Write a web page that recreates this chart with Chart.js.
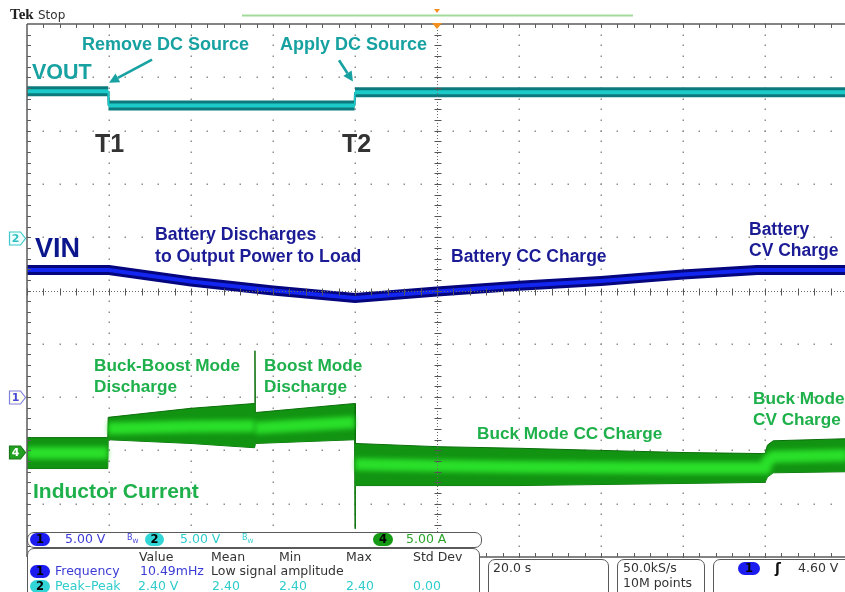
<!DOCTYPE html>
<html><head><meta charset="utf-8">
<script src="https://cdn.jsdelivr.net/npm/chart.js@4.4.1/dist/chart.umd.min.js"></script>
<style>
html,body{margin:0;padding:0;background:#fff;overflow:hidden;width:845px;height:592px;}
#wrap{position:relative;width:848px;height:592px;overflow:hidden;}
canvas{position:absolute;left:0;top:0;}
.lbl{position:absolute;white-space:nowrap;font-family:"Liberation Sans",Arial,sans-serif;font-weight:bold;line-height:1;}
.ro{position:absolute;white-space:nowrap;font-family:"DejaVu Sans",sans-serif;font-size:12.5px;line-height:1;}
.box{position:absolute;border:1.5px solid #5a5a5a;border-radius:7px;background:#fff;box-sizing:border-box;}
.pill{position:absolute;height:13px;border-radius:7px;font-family:"DejaVu Sans",sans-serif;font-weight:bold;font-size:11.5px;line-height:13px;text-align:center;color:#000;}
.bw{position:absolute;font-family:"DejaVu Sans",sans-serif;font-size:8px;line-height:1;}
</style>
</head><body>
<div id="wrap">
<canvas id="c" width="848" height="592"></canvas>
</div>
<script>
// ---------------- DATA (time in s, 20 s/div; values in screen divisions) ----------------
// VOUT trace
const tVout   = [-100, -80.2, -80.1, -20.1, -20.0, 100];
const vVout   = [3.74, 3.74, 3.47, 3.47, 3.72, 3.72];
// VIN trace
const tVin    = [-100, -80, -60, -40, -20, 0, 20, 40, 60, 78, 100];
const vVin    = [0.385, 0.385, 0.17, 0.0, -0.14, -0.02, 0.09, 0.18, 0.30, 0.385, 0.385];
// Inductor current envelope (upper / lower edge of the switching band) and bright core
const tIL     = [-100, -80.3, -80.2, -60, -44.5, -44.4, -44.3, -20.1, -20.0, -19.9, 0, 20, 40, 60, 80.0, 80.6, 82, 100];
const ilUpper = [-2.76, -2.76, -2.38, -2.21, -2.12, -1.13, -2.29, -2.12, -2.12, -2.87, -2.93, -2.96, -3.00, -3.04, -3.06, -2.90, -2.82, -2.78];
const ilLower = [-3.34, -3.34, -2.80, -2.87, -2.95, -2.95, -2.87, -2.80, -4.47, -3.66, -3.66, -3.66, -3.64, -3.62, -3.60, -3.50, -3.42, -3.40];
const ilCore  = [-3.05, -3.05, -2.59, -2.55, -2.54, -2.54, -2.58, -2.47, -2.47, -3.26, -3.29, -3.31, -3.32, -3.33, -3.33, -3.20, -3.12, -3.09];
// Channel ground markers (divisions)
const chMarkers = [
  {ch:'2', level:0.98,  kind:'c2'},
  {ch:'1', level:-2.0,  kind:'c1'},
  {ch:'4', level:-3.03, kind:'c4'}
];
// Axis ranges
const X_MIN = -100, X_MAX = 100, X_DIV = 20;
const Y_MIN = -5, Y_MAX = 5;

// Annotation arrows (data coordinates: [tFrom, vFrom, tTo, vTo])
const arrows = [[-69.5, 4.33, -80.0, 3.90], [-23.9, 4.32, -20.5, 3.92]];

const TEAL = '#17a1a1', NAVY = '#0b168c', NAVY2 = '#1b1b96', GREEN = '#1eb04a', DARK = '#333333';
const labels = [
 ['Remove DC Source', 82, 44, 18, TEAL],
 ['Apply DC Source', 280, 44, 18, TEAL],
 ['VOUT', 32, 73, 21.5, TEAL],
 ['T1', 95, 143, 25, DARK],
 ['T2', 342, 143, 25, DARK],
 ['VIN', 35, 248, 27, NAVY],
 ['Battery Discharges', 155, 235, 17.7, NAVY2],
 ['to Output Power to Load', 155, 257, 17.7, NAVY2],
 ['Battery CC Charge', 451, 257, 17.5, NAVY2],
 ['Battery', 749, 230, 17.5, NAVY2],
 ['CV Charge', 749, 251, 17.5, NAVY2],
 ['Buck-Boost Mode', 94, 365, 17.2, GREEN],
 ['Discharge', 94, 386, 17.2, GREEN],
 ['Boost Mode', 264, 365, 17.2, GREEN],
 ['Discharge', 264, 386, 17.2, GREEN],
 ['Inductor Current', 33, 490, 21, GREEN],
 ['Buck Mode CC Charge', 477, 433, 17.2, GREEN],
 ['Buck Mode', 753, 398, 17.2, GREEN],
 ['CV Charge', 753, 419, 17.2, GREEN]
];

// ---------------- helpers ----------------
const pts = (xs, ys) => xs.map((x, i) => ({x, y: ys[i]}));
const stepW = (thin, thick) => c => (Math.abs(c.p1.parsed.x - c.p0.parsed.x) < 0.5 ? thin : thick);
const wrap = document.getElementById('wrap');
function addDiv(cls, text, left, top, style) {
  const d = document.createElement('div');
  d.className = cls; d.textContent = text;
  d.style.left = left + 'px'; d.style.top = top + 'px';
  if (style) Object.assign(d.style, style);
  wrap.appendChild(d); return d;
}

// ---------------- graticule / decorations plugin ----------------
const scopePlugin = {
  id: 'scope',
  beforeDatasetsDraw(chart) {
    const {ctx, scales: {x, y}} = chart;
    ctx.save();
    ctx.fillStyle = '#8f8f8f';
    for (let t = X_MIN + X_DIV; t < X_MAX; t += X_DIV) {
      if (t === 0) continue;
      for (let k = 0; k <= 50; k++) {
        const v = Y_MIN + k * 0.2;
        ctx.fillRect(Math.round(x.getPixelForValue(t)) - 0.5, Math.round(y.getPixelForValue(v)) - 0.5, 1.5, 1.5);
      }
    }
    for (let v = Y_MIN + 1; v < Y_MAX; v++) {
      if (v === 0) continue;
      for (let k = 0; k <= 50; k++) {
        const t = X_MIN + k * X_DIV / 5;
        ctx.fillRect(Math.round(x.getPixelForValue(t)) - 0.5, Math.round(y.getPixelForValue(v)) - 0.5, 1.5, 1.5);
      }
    }
    ctx.restore();
  },
  beforeDatasetDraw(chart, args) {
    if (args.meta.label === 'IL core') { chart.ctx.save(); chart.ctx.filter = 'blur(2.5px)'; }
  },
  afterDatasetDraw(chart, args) {
    if (args.meta.label === 'IL core') { chart.ctx.restore(); }
  },
  afterDatasetsDraw(chart) {
    const {ctx, scales: {x, y}, chartArea: a} = chart;
    const X = v => x.getPixelForValue(v), Y = v => y.getPixelForValue(v);
    ctx.save();
    // center lines
    ctx.strokeStyle = '#6a6a6a'; ctx.lineWidth = 1;
    ctx.setLineDash([1, 2]);
    const cx = Math.round(X(0)) + 0.5, cy = Math.round(Y(0)) + 0.5;
    ctx.beginPath(); ctx.moveTo(cx, a.top); ctx.lineTo(cx, a.bottom); ctx.stroke();
    ctx.beginPath(); ctx.moveTo(a.left, cy); ctx.lineTo(a.right, cy); ctx.stroke();
    ctx.setLineDash([]);
    ctx.strokeStyle = '#555';
    ctx.beginPath();
    for (let k = 0; k <= 50; k++) {
      const py = Math.round(Y(Y_MIN + k * 0.2)) + 0.5;
      ctx.moveTo(cx - 3, py); ctx.lineTo(cx + 4, py);
      const px = Math.round(X(X_MIN + k * X_DIV / 5)) + 0.5;
      ctx.moveTo(px, cy - 3); ctx.lineTo(px, cy + 4);
    }
    ctx.stroke();
    // edges
    ctx.strokeStyle = '#5c5c5c'; ctx.lineWidth = 1.5;
    ctx.beginPath();
    ctx.moveTo(a.left, a.top); ctx.lineTo(a.right, a.top);
    ctx.moveTo(a.left, a.top); ctx.lineTo(a.left, a.bottom);
    ctx.moveTo(a.left, a.bottom); ctx.lineTo(a.right, a.bottom);
    ctx.stroke();
    ctx.lineWidth = 1; ctx.beginPath();
    for (let k = 1; k < 50; k++) {
      const px = Math.round(X(X_MIN + k * X_DIV / 5)) + 0.5;
      ctx.moveTo(px, a.top); ctx.lineTo(px, a.top + 4);
      ctx.moveTo(px, a.bottom); ctx.lineTo(px, a.bottom - 4);
      const py = Math.round(Y(Y_MIN + k * 0.2)) + 0.5;
      ctx.moveTo(a.left, py); ctx.lineTo(a.left + 4, py);
    }
    ctx.stroke();
    // arrows
    ctx.strokeStyle = TEAL; ctx.fillStyle = TEAL; ctx.lineWidth = 2.6;
    arrows.forEach(([t0, v0, t1, v1]) => {
      const x0 = X(t0), y0 = Y(v0), x1 = X(t1), y1 = Y(v1);
      const ang = Math.atan2(y1 - y0, x1 - x0), L = 10, W = 5;
      const bx = x1 - L * Math.cos(ang), by = y1 - L * Math.sin(ang);
      ctx.beginPath(); ctx.moveTo(x0, y0); ctx.lineTo(bx, by); ctx.stroke();
      ctx.beginPath(); ctx.moveTo(x1, y1);
      ctx.lineTo(bx + W * Math.sin(ang), by - W * Math.cos(ang));
      ctx.lineTo(bx - W * Math.sin(ang), by + W * Math.cos(ang));
      ctx.closePath(); ctx.fill();
    });
    // trigger position marker
    const tx = X(0);
    ctx.fillStyle = '#f39020';
    ctx.beginPath(); ctx.moveTo(tx - 5, a.top - 1); ctx.lineTo(tx + 5, a.top - 1); ctx.lineTo(tx, a.top + 5); ctx.closePath(); ctx.fill();
    ctx.beginPath(); ctx.moveTo(tx - 3, 9); ctx.lineTo(tx + 3, 9); ctx.lineTo(tx, 13); ctx.closePath(); ctx.fill();
    // record bar
    ctx.strokeStyle = '#a2dc9c'; ctx.lineWidth = 2;
    ctx.beginPath(); ctx.moveTo(242, 15.5); ctx.lineTo(633, 15.5); ctx.stroke();
    // channel ground markers
    chMarkers.forEach(m => {
      const py = Math.round(Y(m.level)) + 0.5;
      let fill, stroke, txt;
      if (m.kind === 'c2') { fill = '#f0ffff'; stroke = '#3cc8c8'; txt = '#30c0c0'; }
      else if (m.kind === 'c1') { fill = '#fffff2'; stroke = '#8080e0'; txt = '#4a4ad8'; }
      else { fill = '#22a022'; stroke = '#1a7a1a'; txt = '#ffffff'; }
      ctx.beginPath();
      ctx.moveTo(9.5, py - 6.5); ctx.lineTo(20.5, py - 6.5); ctx.lineTo(25.5, py);
      ctx.lineTo(20.5, py + 6.5); ctx.lineTo(9.5, py + 6.5); ctx.closePath();
      ctx.fillStyle = fill; ctx.fill(); ctx.strokeStyle = stroke; ctx.lineWidth = 1.2; ctx.stroke();
      ctx.fillStyle = txt; ctx.font = 'bold 11px "DejaVu Sans"'; ctx.textAlign = 'center'; ctx.textBaseline = 'middle';
      ctx.fillText(m.ch, 15.5, py + 0.5);
    });
    ctx.restore();
  }
};

// ---------------- chart ----------------
new Chart(document.getElementById('c'), {
  type: 'line',
  data: {
    datasets: [
      {label: 'VOUT core', data: pts(tVout, vVout), borderColor: '#1ccaca', borderWidth: 4, order: 0,
       segment: {borderWidth: stepW(1.5, 4)}},
      {label: 'VOUT', data: pts(tVout, vVout), borderColor: '#0c7a7c', borderWidth: 10, order: 1,
       segment: {borderWidth: stepW(2, 10)}},
      {label: 'VIN core', data: pts(tVin, vVin), borderColor: '#1226f0', borderWidth: 4, order: 2},
      {label: 'VIN', data: pts(tVin, vVin), borderColor: '#05057e', borderWidth: 10, order: 3},
      {label: 'IL core', data: pts(tIL, ilCore), borderColor: 'rgba(44,232,44,0.9)', borderWidth: 12, order: 4,
       segment: {borderWidth: stepW(0.01, 12)}},
      {label: 'IL upper', data: pts(tIL, ilUpper), borderColor: '#0a6e0a', borderWidth: 1, backgroundColor: '#129412', fill: '+1', order: 5},
      {label: 'IL lower', data: pts(tIL, ilLower), borderColor: '#0a6e0a', borderWidth: 1, order: 6}
    ]
  },
  options: {
    responsive: false, animation: false, events: [],
    layout: {padding: {left: 27, top: 24, right: 1, bottom: 35}},
    plugins: {legend: {display: false}, tooltip: {enabled: false}},
    elements: {point: {radius: 0}, line: {tension: 0, borderCapStyle: 'butt', borderJoinStyle: 'miter'}},
    scales: {
      x: {type: 'linear', min: X_MIN, max: X_MAX, display: false},
      y: {type: 'linear', min: Y_MIN, max: Y_MAX, display: false}
    }
  },
  plugins: [scopePlugin]
});

// ---------------- annotation text ----------------
labels.forEach(([t, lx, cy, sz, col]) => {
  addDiv('lbl', t, lx, cy - 0.49 * sz, {fontSize: sz + 'px', color: col});
});
// header
addDiv('lbl', 'Tek', 10, 7, {fontFamily: '"Liberation Serif",serif', fontSize: '15px', color: '#222'});
addDiv('ro', 'Stop', 38, 9, {fontSize: '12px', color: '#333'});

// ---------------- readout boxes ----------------
function box(l, t, w, h) { const d = document.createElement('div'); d.className = 'box';
  Object.assign(d.style, {left: l + 'px', top: t + 'px', width: w + 'px', height: h + 'px'}); wrap.appendChild(d); }
function pill(txt, l, cy, w, bg) { addDiv('pill', txt, l, cy - 6.5, {width: w + 'px', background: bg}); }
function ro(txt, l, cy, col) { addDiv('ro', txt, l, cy - 6.2, {color: col}); }
function bw(l, cy, col) { const d = addDiv('bw', '', l, cy - 6, {color: col}); d.innerHTML = 'B<span style="font-size:6px;position:relative;top:3px">W</span>'; }
const C1 = '#3b3bd6', C2 = '#2fcccc', C4 = '#2aa52a', CK = '#333';
box(27, 532, 455, 16);
box(27, 548, 453, 60);
box(488, 559, 121, 40);
box(617, 559, 88, 40);
box(713, 559, 150, 40);
pill('1', 30, 539.5, 20, '#1c1cf0'); ro('5.00 V', 65, 539.5, C1); bw(127, 539.5, C1);
pill('2', 145, 539.5, 19, '#33d6d6'); ro('5.00 V', 180, 539.5, C2); bw(242, 539.5, C2);
pill('4', 373, 539.5, 20, '#169a16'); ro('5.00 A', 406, 539.5, C4);
ro('Value', 139, 557, CK); ro('Mean', 211, 557, CK); ro('Min', 279, 557, CK); ro('Max', 346, 557, CK); ro('Std Dev', 413, 557, CK);
pill('1', 30, 571, 20, '#1c1cf0'); ro('Frequency', 55, 571, C1); ro('10.49mHz', 140, 571, C1); ro('Low signal amplitude', 211, 571, CK);
pill('2', 30, 586, 20, '#33d6d6'); ro('Peak\u2013Peak', 55, 586, C2); ro('2.40 V', 138, 586, C2);
ro('2.40', 212, 586, C2); ro('2.40', 279, 586, C2); ro('2.40', 346, 586, C2); ro('0.00', 413, 586, C2);
ro('20.0 s', 493, 568, CK);
ro('50.0kS/s', 623, 568, CK); ro('10M points', 623, 583, CK);
pill('1', 738, 568, 22, '#1c1cf0');
addDiv('ro', '\u0283', 775, 561, {fontSize: '14px', fontWeight: 'bold', color: '#111'});
ro('4.60 V', 798, 568, CK);
</script>
</body></html>
